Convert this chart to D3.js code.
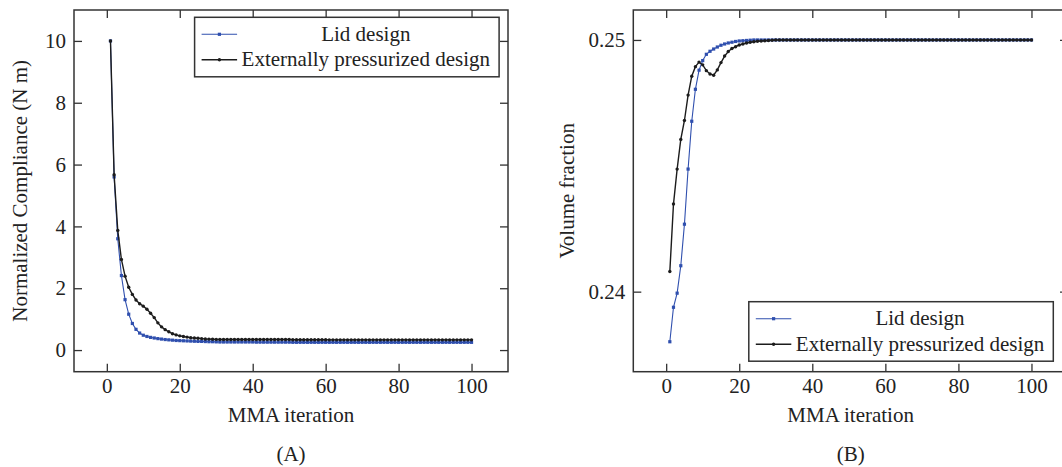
<!DOCTYPE html>
<html lang="en">
<head>
<meta charset="UTF-8">
<title>MMA convergence</title>
<script src="https://cdn.jsdelivr.net/npm/d3@7"></script>
<style>
    html, body {
        margin: 0px;
        padding: 0px;
        background: #fff;
    }
    svg { display: block; }
    text {
        font-family: "Liberation Serif", "Times New Roman", serif;
        fill: #222;
    }
</style>
</head>
<body>
<svg width="1062" height="467"></svg>
<script>
// iteration numbers 1..100
const iterations = d3.range(1, 101)

const seriesNames = ['Lid design', 'Externally pressurized design']
const seriesColors = ['#2f4fae', '#1c1c1c']

// (A) normalized compliance
const complianceLid = [
    10, 5.6, 3.6, 2.41, 1.63, 1.16, 0.86, 0.67, 0.55, 0.48,
    0.44, 0.41, 0.39, 0.37, 0.355, 0.34, 0.33, 0.32, 0.31, 0.305,
    0.30, 0.295, 0.29, 0.285, 0.28, 0.28, 0.275, 0.27, 0.27, 0.265,
    0.26, 0.26, 0.26, 0.26, 0.26, 0.26, 0.26, 0.26, 0.26, 0.26,
    0.255, 0.255, 0.255, 0.255, 0.255, 0.255, 0.255, 0.255, 0.255, 0.255,
    0.25, 0.25, 0.25, 0.25, 0.25, 0.25, 0.25, 0.25, 0.25, 0.25,
    0.25, 0.25, 0.25, 0.25, 0.25, 0.25, 0.25, 0.25, 0.25, 0.25,
    0.25, 0.25, 0.25, 0.25, 0.25, 0.25, 0.25, 0.25, 0.25, 0.25,
    0.25, 0.25, 0.25, 0.25, 0.25, 0.25, 0.25, 0.25, 0.25, 0.25,
    0.25, 0.25, 0.25, 0.25, 0.25, 0.25, 0.25, 0.25, 0.25, 0.25
]
const complianceExt = [
    10, 5.67, 3.87, 2.93, 2.39, 2.03, 1.80, 1.62, 1.50, 1.42,
    1.32, 1.19, 1.05, 0.88, 0.75, 0.66, 0.59, 0.53, 0.49, 0.46,
    0.44, 0.42, 0.40, 0.39, 0.38, 0.37, 0.36, 0.355, 0.35, 0.345,
    0.34, 0.34, 0.34, 0.34, 0.34, 0.34, 0.34, 0.34, 0.34, 0.34,
    0.34, 0.34, 0.34, 0.34, 0.34, 0.34, 0.34, 0.34, 0.34, 0.34,
    0.335, 0.335, 0.335, 0.335, 0.335, 0.335, 0.335, 0.335, 0.335, 0.335,
    0.33, 0.33, 0.33, 0.33, 0.33, 0.33, 0.33, 0.33, 0.33, 0.33,
    0.33, 0.33, 0.33, 0.33, 0.33, 0.33, 0.33, 0.33, 0.33, 0.33,
    0.33, 0.33, 0.33, 0.33, 0.33, 0.33, 0.33, 0.33, 0.33, 0.33,
    0.33, 0.33, 0.33, 0.33, 0.33, 0.33, 0.33, 0.33, 0.33, 0.33
]

// (B) volume fraction
const volumeLid = [
    0.23801, 0.23938, 0.23994, 0.24103, 0.24268, 0.24487, 0.24677, 0.24804, 0.2488, 0.24918,
    0.24943, 0.24955, 0.24964, 0.24972, 0.24979, 0.24984, 0.24988, 0.24991, 0.24994, 0.24996,
    0.24997, 0.24998, 0.24999, 0.25, 0.25, 0.25, 0.25, 0.25, 0.25, 0.25,
    0.25, 0.25, 0.25, 0.25, 0.25, 0.25, 0.25, 0.25, 0.25, 0.25,
    0.25, 0.25, 0.25, 0.25, 0.25, 0.25, 0.25, 0.25, 0.25, 0.25,
    0.25, 0.25, 0.25, 0.25, 0.25, 0.25, 0.25, 0.25, 0.25, 0.25,
    0.25, 0.25, 0.25, 0.25, 0.25, 0.25, 0.25, 0.25, 0.25, 0.25,
    0.25, 0.25, 0.25, 0.25, 0.25, 0.25, 0.25, 0.25, 0.25, 0.25,
    0.25, 0.25, 0.25, 0.25, 0.25, 0.25, 0.25, 0.25, 0.25, 0.25,
    0.25, 0.25, 0.25, 0.25, 0.25, 0.25, 0.25, 0.25, 0.25, 0.25
]
const volumeExt = [
    0.2408, 0.24348, 0.24487, 0.24605, 0.2468, 0.24781, 0.24856, 0.24894, 0.24912, 0.24901,
    0.24878, 0.24865, 0.2486, 0.24881, 0.2491, 0.24936, 0.24954, 0.24966, 0.24973, 0.2498,
    0.24984, 0.24988, 0.24991, 0.24993, 0.24995, 0.24996, 0.24997, 0.24998, 0.24999, 0.25,
    0.25, 0.25, 0.25, 0.25, 0.25, 0.25, 0.25, 0.25, 0.25, 0.25,
    0.25, 0.25, 0.25, 0.25, 0.25, 0.25, 0.25, 0.25, 0.25, 0.25,
    0.25, 0.25, 0.25, 0.25, 0.25, 0.25, 0.25, 0.25, 0.25, 0.25,
    0.25, 0.25, 0.25, 0.25, 0.25, 0.25, 0.25, 0.25, 0.25, 0.25,
    0.25, 0.25, 0.25, 0.25, 0.25, 0.25, 0.25, 0.25, 0.25, 0.25,
    0.25, 0.25, 0.25, 0.25, 0.25, 0.25, 0.25, 0.25, 0.25, 0.25,
    0.25, 0.25, 0.25, 0.25, 0.25, 0.25, 0.25, 0.25, 0.25, 0.25
]

const xTicks = [0, 20, 40, 60, 80, 100]
const complianceTicks = [0, 2, 4, 6, 8, 10]
const volumeTicks = [0.24, 0.25]

const FONT = 21
const TICK = 8
const svg = d3.select('svg')

function drawPanel(p) {
    const x = d3.scaleLinear().domain([-9, 110]).range([p.left, p.right])
    const y = d3.scaleLinear().domain(p.yDomain).range([p.bottom, p.top])
    const g = svg.append('g')

    const styleAxis = (sel) => {
        sel.select('.domain').remove()
        sel.selectAll('.tick line').attr('stroke', '#333').attr('stroke-width', 1.3)
        sel.selectAll('.tick text').attr('font-size', FONT).attr('fill', '#222')
            .style('font-family', '"Liberation Serif", "Times New Roman", serif')
    }

    g.append('g').attr('transform', `translate(0,${p.bottom})`)
        .call(d3.axisBottom(x).tickValues(xTicks).tickSize(-TICK).tickPadding(6.5))
        .call(styleAxis)
    g.append('g').attr('transform', `translate(0,${p.top})`)
        .call(d3.axisTop(x).tickValues(xTicks).tickSize(-TICK).tickFormat(''))
        .call(styleAxis)
    g.append('g').attr('transform', `translate(${p.left},0)`)
        .call(d3.axisLeft(y).tickValues(p.yTicks).tickSize(-TICK).tickPadding(8).tickFormat(p.yFormat))
        .call(styleAxis)
    g.append('g').attr('transform', `translate(${p.right},0)`)
        .call(d3.axisRight(y).tickValues(p.yTicks).tickSize(-TICK).tickFormat(''))
        .call(styleAxis)

    g.append('rect')
        .attr('x', p.left).attr('y', p.top)
        .attr('width', p.right - p.left).attr('height', p.bottom - p.top)
        .attr('fill', 'none').attr('stroke', '#333').attr('stroke-width', 1.5)

    const line = d3.line().x((d, i) => x(iterations[i])).y(d => y(d))

    // lid design: blue with square markers
    g.append('path').datum(p.lid)
        .attr('d', line).attr('fill', 'none')
        .attr('stroke', seriesColors[0]).attr('stroke-width', 1.1)
    g.append('g').selectAll('rect').data(p.lid).enter().append('rect')
        .attr('x', (d, i) => x(iterations[i]) - 1.6)
        .attr('y', d => y(d) - 1.6)
        .attr('width', 3.2).attr('height', 3.2)
        .attr('fill', seriesColors[0])

    // externally pressurized: black with dots
    g.append('path').datum(p.ext)
        .attr('d', line).attr('fill', 'none')
        .attr('stroke', seriesColors[1]).attr('stroke-width', 1.4)
    g.append('g').selectAll('circle').data(p.ext).enter().append('circle')
        .attr('cx', (d, i) => x(iterations[i]))
        .attr('cy', d => y(d))
        .attr('r', 1.7)
        .attr('fill', seriesColors[1])

    const cx = (p.left + p.right) / 2
    g.append('text').attr('x', cx).attr('y', 421.5)
        .attr('text-anchor', 'middle').attr('font-size', FONT)
        .text('MMA iteration')
    g.append('text').attr('x', cx).attr('y', 461)
        .attr('text-anchor', 'middle').attr('font-size', FONT)
        .text(p.caption)
    g.append('text')
        .attr('transform', `translate(${p.yLabelX},${(p.top + p.bottom) / 2}) rotate(-90)`)
        .attr('text-anchor', 'middle').attr('font-size', FONT)
        .text(p.yLabel)

    // legend box
    const lg = g.append('g').attr('transform', `translate(${p.legend[0]},${p.legend[1]})`)
    lg.append('rect').attr('width', 304.5).attr('height', 59.5)
        .attr('fill', '#fff').attr('stroke', '#333').attr('stroke-width', 1.5)
    const rowsY = [17, 42.5]
    const extText = lg.append('text').attr('x', 47).attr('y', rowsY[1] + 6.5)
        .attr('font-size', FONT).text(seriesNames[1])
    const extW = extText.node().getComputedTextLength()
    lg.append('text').attr('x', 47 + extW / 2).attr('y', rowsY[0] + 6.5)
        .attr('text-anchor', 'middle').attr('font-size', FONT).text(seriesNames[0])
    seriesNames.forEach((name, i) => {
        lg.append('line').attr('x1', 7).attr('x2', 42.5)
            .attr('y1', rowsY[i]).attr('y2', rowsY[i])
            .attr('stroke', seriesColors[i]).attr('stroke-width', i ? 1.4 : 1.1)
        if (i == 0) {
            lg.append('rect').attr('x', 23.2).attr('y', rowsY[i] - 1.6)
                .attr('width', 3.2).attr('height', 3.2).attr('fill', seriesColors[i])
        } else {
            lg.append('circle').attr('cx', 24.8).attr('cy', rowsY[i]).attr('r', 1.7)
                .attr('fill', seriesColors[i])
        }
    })
}

drawPanel({
    left: 74, right: 508, top: 10, bottom: 371.7,
    yDomain: [-0.7, 11], yTicks: complianceTicks, yFormat: d3.format('d'),
    lid: complianceLid, ext: complianceExt,
    yLabel: 'Normalized Compliance (N m)', yLabelX: 26.5,
    caption: '(A)', legend: [194.6, 17.3]
})

drawPanel({
    left: 633.3, right: 1068, top: 10, bottom: 371.7,
    yDomain: [0.23682, 0.25119], yTicks: volumeTicks, yFormat: d3.format('.2f'),
    lid: volumeLid, ext: volumeExt,
    yLabel: 'Volume fraction', yLabelX: 574,
    caption: '(B)', legend: [748.8, 301.7]
})
</script>
</body>
</html>
